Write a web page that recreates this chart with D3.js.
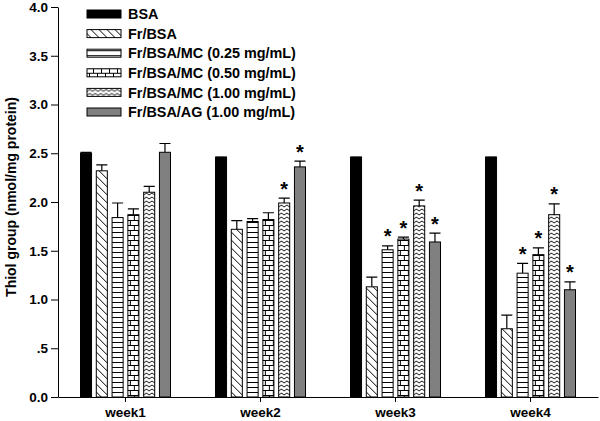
<!DOCTYPE html>
<html lang="en">
<head>
    <meta charset="UTF-8">
    <title>Thiol group</title>
    <style type="text/css">
        * {
            margin: 0;
            padding: 0;
        }

        body {
            background: #fff;
        }

        #chart-area text {
            font-family: Arial, "Liberation Sans", sans-serif;
            font-weight: bold;
        }
    </style>
</head>
<body>
<div id="chart-area"></div>
<script src="https://cdn.jsdelivr.net/npm/d3@7"></script>
<script type="text/javascript">

  const WIDTH = 600
  const HEIGHT = 421

  // data
  const weeks = ['week1', 'week2', 'week3', 'week4']
  const seriesNames = ['BSA', 'Fr/BSA', 'Fr/BSA/MC (0.25 mg/mL)', 'Fr/BSA/MC (0.50 mg/mL)',
    'Fr/BSA/MC (1.00 mg/mL)', 'Fr/BSA/AG (1.00 mg/mL)']
  const bsa = [2.50, 2.46, 2.46, 2.46]
  const frBsa = [2.32, 1.72, 1.13, 0.70]
  const mc025 = [1.84, 1.80, 1.51, 1.27]
  const mc050 = [1.87, 1.82, 1.62, 1.46]
  const mc100 = [2.10, 1.99, 1.96, 1.87]
  const ag100 = [2.51, 2.36, 1.59, 1.10]
  const bsaErr = [0.01, 0.00, 0.00, 0.00]
  const frBsaErr = [0.06, 0.09, 0.10, 0.14]
  const mc025Err = [0.15, 0.03, 0.04, 0.10]
  const mc050Err = [0.06, 0.07, 0.02, 0.07]
  const mc100Err = [0.06, 0.05, 0.06, 0.11]
  const ag100Err = [0.09, 0.06, 0.09, 0.08]
  // significance marks (*)
  const bsaStar = [0, 0, 0, 0]
  const frBsaStar = [0, 0, 0, 0]
  const mc025Star = [0, 0, 1, 1]
  const mc050Star = [0, 0, 1, 1]
  const mc100Star = [0, 1, 1, 1]
  const ag100Star = [0, 1, 1, 1]
  const yTicks = [0, 0.5, 1, 1.5, 2, 2.5, 3, 3.5, 4]
  const yTickLabels = ['0.0', '.5', '1.0', '1.5', '2.0', '2.5', '3.0', '3.5', '4.0']

  const values = [bsa, frBsa, mc025, mc050, mc100, ag100]
  const errors = [bsaErr, frBsaErr, mc025Err, mc050Err, mc100Err, ag100Err]
  const stars = [bsaStar, frBsaStar, mc025Star, mc050Star, mc100Star, ag100Star]
  const fills = ['#000', 'url(#diag)', 'url(#hlines)', 'url(#brick)', 'url(#zigzag)', '#808080']

  const svg = d3.select('#chart-area').append('svg')
      .attr('width', WIDTH)
      .attr('height', HEIGHT)

  // hatch patterns
  const defs = svg.append('defs')
  const pat = (id, w, h) => {
    const p = defs.append('pattern')
        .attr('id', id)
        .attr('patternUnits', 'userSpaceOnUse')
        .attr('width', w)
        .attr('height', h)
    p.append('rect').attr('width', w).attr('height', h).attr('fill', '#fff')
    return p
  }
  pat('diag', 8, 8).append('path')
      .attr('d', 'M-2,-2 L10,10 M-2,6 L2,10 M6,-2 L10,2')
      .attr('stroke', '#000').attr('stroke-width', 1)
  pat('hlines', 8, 5).append('path')
      .attr('d', 'M0,2.5 H8')
      .attr('stroke', '#000').attr('stroke-width', 1)
  pat('brick', 8, 10).append('path')
      .attr('d', 'M0,0.5 H8 M0,5.5 H8 M2.5,0.5 V5.5 M6.5,5.5 V10.5')
      .attr('stroke', '#000').attr('stroke-width', 1)
  pat('zigzag', 5.5, 4).append('path')
      .attr('d', 'M0,3 L2.75,1 L5.5,3')
      .attr('fill', 'none')
      .attr('stroke', '#000').attr('stroke-width', 0.9)

  const x0 = d3.scaleBand()
      .domain(weeks)
      .range([58, 598])

  const x1 = d3.scaleBand()
      .domain(d3.range(seriesNames.length))
      .range([22.5, 112.5])
      .paddingInner(0.3)

  const y = d3.scaleLinear()
      .domain([0, 4])
      .range([397, 7])

  // axes
  const yAxis = svg.append('g')
      .attr('transform', 'translate(58, 0)')
      .call(d3.axisLeft(y)
          .tickValues(yTicks)
          .tickFormat((d, i) => yTickLabels[i])
          .tickSize(7)
          .tickPadding(3)
          .tickSizeOuter(0))
  yAxis.selectAll('text').attr('font-size', 13.5).attr('fill', '#000')

  const xAxis = svg.append('g')
      .attr('transform', 'translate(0, 397)')
      .call(d3.axisBottom(x0)
          .tickSize(5)
          .tickPadding(5.5)
          .tickSizeOuter(0))
  xAxis.selectAll('text').attr('font-size', 13.5).attr('fill', '#000')
  svg.selectAll('.domain, .tick line').attr('stroke', '#000')

  svg.append('text')
      .attr('transform', 'translate(16, 197) rotate(-90)')
      .attr('text-anchor', 'middle')
      .attr('font-size', 14)
      .text('Thiol group (nmol/mg protein)')

  // bars
  const series = svg.selectAll('.series')
      .data(seriesNames)
      .enter()
      .append('g')
      .attr('class', 'series')

  const cells = series.selectAll('.cell')
      .data((d, s) => weeks.map((w, i) => ({ s, w, v: values[s][i], e: errors[s][i], star: stars[s][i] })))
      .enter()
      .append('g')
      .attr('transform', (d) => `translate(${x0(d.w) + x1(d.s)}, 0)`)

  const bw = x1.bandwidth()

  cells.append('path')
      .attr('d', (d) => `M${bw / 2},${y(d.v)} V${y(d.v + d.e)} M0,${y(d.v + d.e)} H${bw}`)
      .attr('stroke', '#000')
      .attr('stroke-width', 1.2)
      .attr('fill', 'none')

  cells.append('rect')
      .attr('x', 0)
      .attr('y', (d) => y(d.v))
      .attr('width', bw)
      .attr('height', (d) => y(0) - y(d.v))
      .attr('fill', (d) => fills[d.s])
      .attr('stroke', '#000')
      .attr('stroke-width', 1)

  cells.filter((d) => d.star)
      .append('text')
      .attr('x', bw / 2)
      .attr('y', (d) => y(d.v + d.e) - 2.5)
      .attr('text-anchor', 'middle')
      .attr('font-size', 20)
      .text('*')

  // legend
  const legend = svg.selectAll('.legend')
      .data(seriesNames)
      .enter()
      .append('g')
      .attr('transform', (d, i) => `translate(87, ${14 + i * 19.6})`)

  legend.append('rect')
      .attr('x', 0)
      .attr('y', -4)
      .attr('width', 34)
      .attr('height', 8)
      .attr('fill', (d, i) => fills[i])
      .attr('stroke', '#000')
      .attr('stroke-width', 1)

  legend.append('text')
      .attr('x', 41)
      .attr('y', 0)
      .attr('dy', '0.36em')
      .attr('font-size', 14.4)
      .text((d) => d)

</script>
</body>
</html>
